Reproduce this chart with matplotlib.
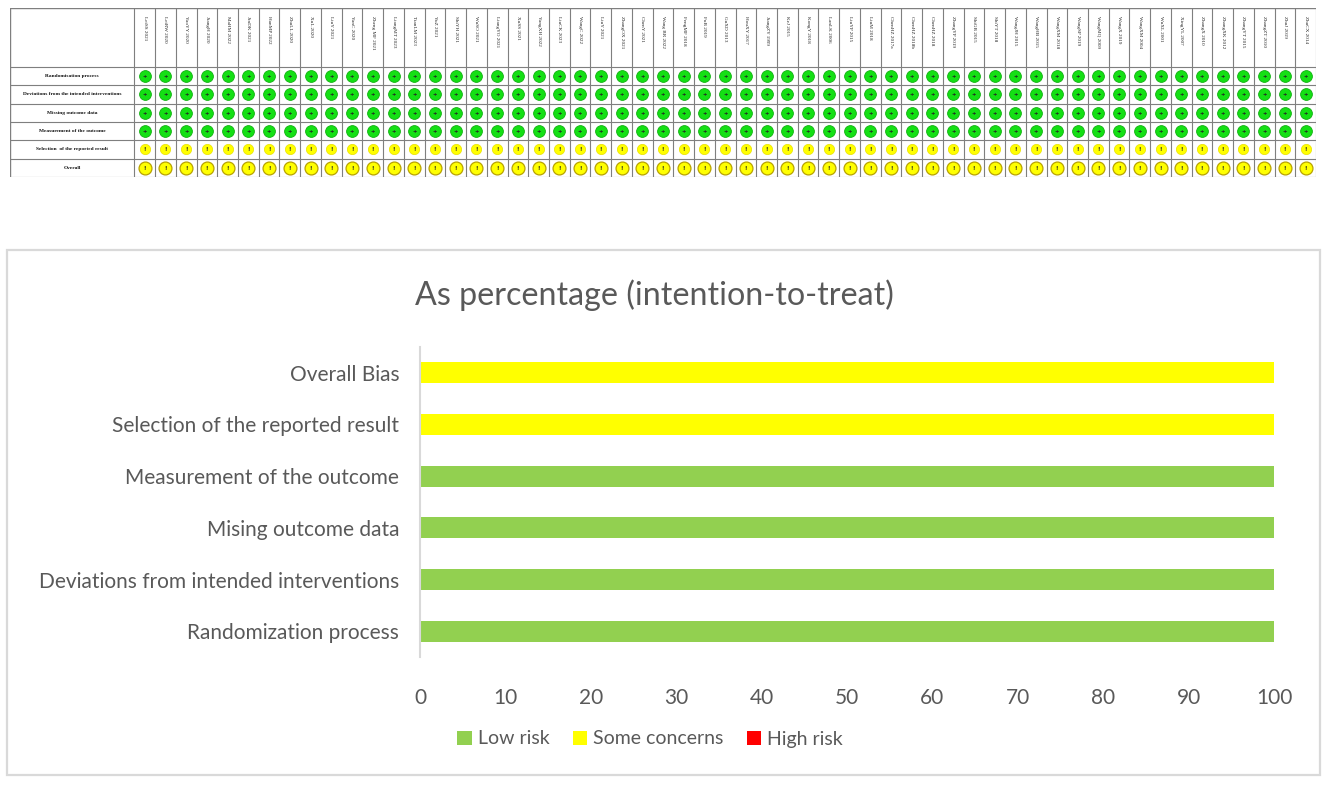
import matplotlib
matplotlib.use("Agg")
import matplotlib.pyplot as plt
from matplotlib.patches import Rectangle
import numpy as np

# ---------------- data ----------------
studies = ["LeiSS 2021", "LeiRW 2020", "YaoYY 2020", "JiangH 2020", "MaHM 2022", "JinDK 2021",
           "HanMP 2022", "ZhuLL 2020", "XuL 2020", "LiuY 2021", "YanC 2020", "Zheng MF 2021",
           "LiangMT 2023", "TianLM 2023", "YuZ 2021", "ShiYH 2021", "WuSO 2021", "LiangYO 2021",
           "XuSS 2021", "YangXH 2022", "LiuCK 2023", "WangC 2022", "LiuY 2021", "ZhangOX 2021",
           "ChenY 2021", "Wang BR 2022", "FengMF 2018", "FuB 2019", "GuXD 2013", "HouXY 2017",
           "JiangZY 1999", "KeJ 2015", "KongY 2018", "LanLK 2006", "LiuYP 2015", "LiuM 2018",
           "ChenHZ 2017a", "ChenHZ 2018b", "ChenHZ 2018", "ZhangYP 2019", "ShiGB 2015",
           "ShiYT 2018", "WangJH 2015", "WangHB 2015", "WangXM 2018", "WangSP 2019",
           "WangMQ 2009", "WangX 2019", "WangXM 2004", "WuXL 2001", "XingYL 2007",
           "ZhangX 2010", "ZhangXK 2012", "ZhangYT 2015", "ZhangZT 2010", "ZhuJ 2019",
           "ZhuCX 2014"]
table_domains = ["Randomisation process", "Deviations from the intended interventions",
                 "Missing outcome data", "Measurement of the outcome",
                 "Selection  of the reported result", "Overall"]
# judgement per domain (same for every study): '+' low risk, '!' some concerns
domain_judgement = ["+", "+", "+", "+", "!", "!"]

categories = ["Randomization process", "Deviations from intended interventions",
              "Mising outcome data", "Measurement of the outcome",
              "Selection of the reported result", "Overall Bias"]
low_risk = [100, 100, 100, 100, 0, 0]
some_concerns = [0, 0, 0, 0, 100, 100]
high_risk = [0, 0, 0, 0, 0, 0]
xticks = list(range(0, 101, 10))

# ---------------- figure ----------------
W, H = 1325, 786
fig = plt.figure(figsize=(W / 100, H / 100), dpi=100)
fig.patch.set_facecolor("white")

def fx(px):
    return px / W

def fy(py):
    return 1 - py / H

# ---------- top table ----------
tl, tr, tt, tb = 10, 1316, 8, 177
ax_t = fig.add_axes([fx(tl), fy(tb), fx(tr - tl), (tb - tt) / H])
n = len(studies)
nrow = len(table_domains)
lab_w = 6.0
head_h = 3.2
ax_t.set_xlim(-lab_w, n)
ax_t.set_ylim(nrow, -head_h)
ax_t.axis("off")

gcol = "#7f7f7f"
for i in range(n + 1):
    ax_t.plot([i, i], [-head_h, nrow], color=gcol, lw=0.8, solid_capstyle="butt")
ax_t.plot([-lab_w, -lab_w], [-head_h, nrow], color=gcol, lw=1.0)
for r in range(nrow + 1):
    ax_t.plot([-lab_w, n], [r, r], color=gcol, lw=0.8)
ax_t.plot([-lab_w, n], [-head_h, -head_h], color=gcol, lw=1.0)

serif = ["Liberation Serif", "DejaVu Serif"]
for i, s in enumerate(studies):
    ax_t.text(i + 0.5, -head_h + 0.45, s, rotation=270, ha="center", va="top",
              fontsize=3.7, family=serif, color="#222222")
for r, d in enumerate(table_domains):
    ax_t.text(-lab_w / 2, r + 0.5, d, ha="center", va="center", fontsize=3.9,
              family=serif, fontweight="bold", color="#111111")

for r, j in enumerate(domain_judgement):
    xs = np.arange(n) + 0.5
    ys = np.full(n, r + 0.5)
    if j == "+":
        ax_t.scatter(xs, ys, s=72, color="#14e014", edgecolors="#10b010", linewidths=0.6, zorder=3)
        sym = "+"
    else:
        if table_domains[r] == "Overall":
            ax_t.scatter(xs, ys, s=86, color="#ffff00", edgecolors="#b8a200", linewidths=0.9, zorder=3)
        else:
            ax_t.scatter(xs, ys, s=55, color="#ffff00", edgecolors="#e8e000", linewidths=0.5, zorder=3)
        sym = "!"
    for x in xs:
        ax_t.text(x, r + 0.52, sym, ha="center", va="center", fontsize=3.8,
                  fontweight="bold", color="#222222", zorder=4)

# ---------- bottom chart frame ----------
fig.patches.append(Rectangle((fx(7), fy(775)), fx(1320 - 7), (775 - 250) / H,
                             transform=fig.transFigure, fill=False,
                             edgecolor="#d9d9d9", lw=1.6))

sans = ["Lato", "DejaVu Sans"]
txtc = "#595959"

al, ar, at, ab = 420, 1274, 347, 657
ax = fig.add_axes([fx(al), fy(ab), fx(ar - al), (ab - at) / H])
y = np.arange(len(categories))
bh = 0.41
low = np.array(low_risk)
some = np.array(some_concerns)
high = np.array(high_risk)
ax.barh(y, low, height=bh, color="#92d050", label="Low risk")
ax.barh(y, some, left=low, height=bh, color="#ffff00", label="Some concerns")
ax.barh(y, high, left=low + some, height=bh, color="#ff0000", label="High risk")
ax.set_ylim(-0.5, len(categories) - 0.5)
ax.set_xlim(0, 100)
ax.set_xticks(xticks)
ax.set_xticklabels([str(t) for t in xticks])
ax.set_yticks(y)
ax.set_yticklabels(categories)
for sp in ["top", "right", "bottom"]:
    ax.spines[sp].set_visible(False)
ax.spines["left"].set_color("#d9d9d9")
ax.spines["left"].set_linewidth(1.5)
ax.tick_params(axis="both", length=0, colors=txtc)
ax.tick_params(axis="x", pad=22, labelsize=15)
ax.tick_params(axis="y", pad=15, labelsize=15)
for lab in ax.get_xticklabels() + ax.get_yticklabels():
    lab.set_family(sans)
    lab.set_color(txtc)

fig.text(fx(654), fy(295), "As percentage (intention-to-treat)", ha="center", va="center",
         fontsize=23.2, color=txtc, family=sans)

leg = fig.legend(loc="center", bbox_to_anchor=(fx(650), fy(739)), ncol=3, frameon=False,
                 prop={"family": sans, "size": 14}, handlelength=0.75, handleheight=0.75,
                 handletextpad=0.3, columnspacing=1.2)
for t in leg.get_texts():
    t.set_color(txtc)

fig.savefig("out.png", dpi=100, facecolor="white")
